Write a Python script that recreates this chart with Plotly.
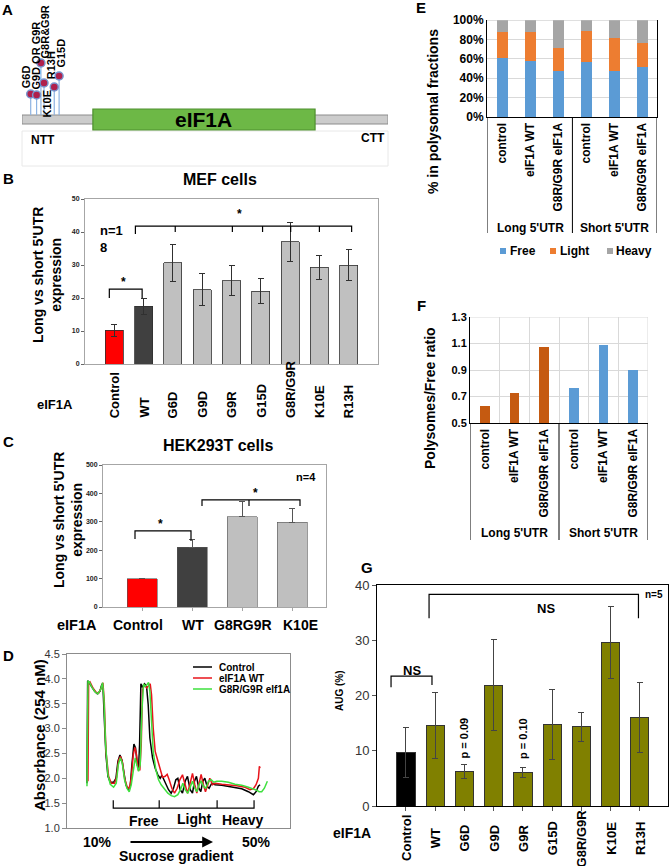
import plotly.graph_objects as go

W, H = 670, 866
def px(x): return x / W
def py(y): return 1 - y / H
FONT = "Arial, Liberation Sans, sans-serif"

# ---------------- DATA ----------------
# A: eIF1A schematic (schematic positions along protein, lollipop heights)
mut_labels = ["G6D", "G9D OR G9R", "G8R&G9R", "K10E", "R13H", "G15D"]
mut_pos = [3.4, 5.7, 7.4, 8.6, 12.6, 14.5]
mut_height = [4.1, 4.0, 7.2, 5.2, 4.8, 5.9]
protein_range = [0, 143]
domain_range = [27.7, 114.5]

# B: MEF cells
mef_cats = ["Control", "WT", "G6D", "G9D", "G9R", "G15D", "G8R/G9R", "K10E", "R13H"]
mef_vals = [10.2, 17.5, 30.7, 22.5, 25.3, 22.1, 37.0, 29.3, 30.0]
mef_err = [1.8, 2.4, 5.6, 4.8, 4.4, 3.7, 6.0, 3.7, 4.7]

# C: HEK293T cells
hek_cats = ["Control", "WT", "G8RG9R", "K10E"]
hek_vals = [100, 211, 317, 299]
hek_err = [None, 26, 53, 49]

# D: polysome profiles (gradient position a.u., absorbance)
ctrl_x = [9.5, 9.7, 10.0, 10.8, 11.8, 12.6, 13.4, 14.0, 14.3, 14.7, 15.2, 15.8, 16.5, 17.5, 18.2, 18.8, 19.4, 20.0, 20.6, 21.2,
          21.9, 22.5, 23.0, 23.6, 24.1, 24.6, 25.0, 25.3, 25.7, 26.2, 26.8, 27.4, 27.9, 28.4, 29.2, 30.0, 30.8, 31.5, 32.0, 32.6,
          33.3, 34.0, 34.8, 35.5, 36.2, 36.8, 37.5, 38.2, 39.0, 39.7, 40.5, 41.2, 41.8, 42.4, 43.1, 43.7, 44.3, 44.9, 45.6, 46.2,
          47.0, 48.0, 50.0, 52.0, 54.0, 56.0, 58.0, 59.5, 60.3, 61.0, 61.5]
ctrl_y = [1.90, 3.96, 3.94, 3.85, 3.75, 3.70, 3.75, 3.90, 3.85, 3.21, 2.47, 2.04, 1.92, 1.92, 2.00, 2.34, 2.47, 2.37, 2.07, 1.87,
          1.77, 1.84, 2.27, 2.69, 2.61, 2.27, 2.20, 2.67, 3.90, 3.83, 3.90, 3.85, 3.48, 2.81, 2.41, 2.20, 2.07, 2.00, 2.06, 1.97,
          1.87, 1.77, 1.70, 1.80, 1.97, 2.00, 1.77, 1.70, 1.94, 2.04, 1.77, 1.70, 1.94, 2.04, 1.80, 1.73, 1.94, 2.00, 1.84, 1.80,
          1.90, 1.87, 1.86, 1.84, 1.82, 1.79, 1.73, 1.67, 1.73, 1.84, 1.87]
wt_x = [9.8, 10.0, 10.4, 11.2, 12.2, 13.0, 13.8, 14.3, 14.7, 15.2, 16.0, 16.8, 17.8, 18.4, 19.0, 19.6, 20.2, 20.8, 21.5, 22.2,
        22.8, 23.4, 23.9, 24.4, 24.9, 25.4, 25.8, 26.2, 26.8, 27.4, 27.9, 28.5, 28.9, 29.4, 30.0, 30.8, 31.6, 32.2, 33.0, 33.6,
        34.2, 35.0, 35.8, 36.6, 37.4, 38.2, 39.0, 39.7, 40.4, 41.2, 41.9, 42.5, 43.2, 43.8, 44.5, 45.1, 45.8, 46.4, 47.2, 48.0,
        50.0, 52.0, 54.5, 57.0, 58.5, 59.5, 60.3, 61.0, 61.3, 61.5]
wt_y = [1.94, 3.92, 3.94, 3.83, 3.73, 3.71, 3.82, 3.92, 3.55, 2.54, 2.04, 1.90, 1.90, 2.02, 2.37, 2.44, 2.31, 2.00, 1.84, 1.79,
        2.00, 2.47, 2.62, 2.47, 2.17, 2.17, 2.67, 3.78, 3.88, 3.82, 3.85, 3.90, 3.68, 3.01, 2.54, 2.34, 2.14, 2.02, 2.04, 2.08,
        1.97, 1.80, 1.70, 1.80, 1.97, 2.07, 1.87, 1.70, 1.87, 2.10, 1.87, 1.70, 1.90, 2.08, 1.87, 1.73, 1.87, 2.00, 1.87, 1.90,
        1.88, 1.87, 1.85, 1.82, 1.77, 1.79, 1.87, 2.00, 2.24, 2.20]
mut_x = [9.5, 9.8, 10.2, 11.0, 12.0, 12.8, 13.6, 14.2, 14.6, 15.1, 15.8, 16.5, 17.5, 18.3, 18.9, 19.5, 20.1, 20.8, 21.5, 22.2,
         22.8, 23.4, 24.0, 24.5, 25.0, 25.5, 26.0, 26.5, 27.0, 27.5, 28.0, 28.4, 28.8, 29.4, 30.2, 31.0, 31.8, 32.8, 33.8, 34.8,
         35.8, 36.8, 37.6, 38.3, 39.0, 39.8, 40.5, 41.2, 41.9, 42.5, 43.2, 43.8, 44.5, 45.2, 46.0, 46.8, 47.6, 48.5, 50.0, 52.0,
         54.0, 56.0, 58.0, 59.5, 60.5, 61.2, 62.0, 62.8, 63.7]
mut_y = [1.84, 3.95, 3.94, 3.83, 3.73, 3.70, 3.78, 3.92, 3.61, 2.67, 2.07, 1.88, 1.82, 1.90, 2.27, 2.41, 2.31, 1.97, 1.80, 1.73,
         1.87, 2.20, 2.41, 2.27, 2.14, 2.27, 3.35, 3.90, 3.85, 3.88, 3.93, 3.75, 3.21, 2.54, 2.17, 1.97, 1.87, 1.79, 1.70, 1.65,
         1.63, 1.67, 1.77, 1.90, 1.77, 1.70, 1.84, 1.94, 1.80, 1.73, 1.87, 1.95, 1.84, 1.80, 1.94, 1.97, 1.92, 1.94, 1.94, 1.92,
         1.88, 1.86, 1.82, 1.79, 1.76, 1.73, 1.73, 1.80, 1.94]
profile_names = ["Control", "eIF1A WT", "G8R/G9R elf1A"]
fraction_bounds = [17.4, 31.2, 48.6, 59.7]
fraction_names = ["Free", "Light", "Heavy"]

# E: % in polysomal fractions
frac_cats = ["control", "eIF1A WT", "G8R/G9R eIF1A", "control", "eIF1A WT", "G8R/G9R eIF1A"]
utr_groups = ["Long 5'UTR", "Short 5'UTR"]
free_pct = [60.5, 57.7, 47.7, 56.4, 47.7, 51.9]
light_pct = [27.5, 29.6, 23.1, 32.3, 34.1, 24.1]
heavy_pct = [12.0, 12.7, 29.2, 11.3, 18.2, 24.0]

# F: Polysomes/Free ratio
ratio_vals = [0.628, 0.724, 1.071, 0.766, 1.089, 0.900]

# G: AUG (%)
aug_cats = ["Control", "WT", "G6D", "G9D", "G9R", "G15D", "G8R/G9R", "K10E", "R13H"]
aug_vals = [9.7, 14.6, 6.2, 21.9, 6.1, 14.8, 14.3, 29.6, 16.0]
aug_err = [4.5, 6.0, 1.3, 8.3, 0.9, 6.3, 2.7, 6.5, 6.3]

# ---------------- FIGURE ----------------
fig = go.Figure()
ann = []
shapes = []

def T(x, y, text, size, bold=True, **kw):
    d = dict(xref='paper', yref='paper', x=px(x), y=py(y), xanchor='center', yanchor='middle',
             text=('<b>%s</b>' % text) if bold else text, showarrow=False,
             font=dict(size=size, family=FONT, color='black'))
    d.update(kw)
    return d

def path(points, xr, yr, width=1.2, color='black'):
    p = 'M ' + ' L '.join('%s,%s' % (a, b) for a, b in points)
    return dict(type='path', path=p, xref=xr, yref=yr, line=dict(color=color, width=width))

# ---- A ----
sx, sy = [], []
for p, h in zip(mut_pos, mut_height):
    sx += [p, p, None]; sy += [2.0, h, None]
fig.add_trace(go.Scatter(x=sx, y=sy, mode='lines', line=dict(color='#8db3e2', width=1.2),
                         xaxis='x', yaxis='y', hoverinfo='skip', showlegend=False))
fig.add_trace(go.Scatter(x=mut_pos, y=mut_height, mode='markers',
                         marker=dict(size=8, color='#b0204c', line=dict(color='#7896cf', width=1.5)),
                         xaxis='x', yaxis='y', showlegend=False))
shapes.append(dict(type='rect', xref='x', yref='y', x0=protein_range[0], x1=protein_range[1], y0=1.1, y1=2.0,
                   fillcolor='#cccccc', line=dict(color='#8c8c8c', width=1), layer='below'))
shapes.append(dict(type='rect', xref='x', yref='y', x0=domain_range[0], x1=domain_range[1], y0=0.5, y1=2.6,
                   fillcolor='#6db846', line=dict(color='#4f8f2f', width=1.2), layer='below'))
shapes.append(dict(type='rect', xref='paper', yref='paper', x0=px(22), x1=px(388), y0=py(166), y1=py(131),
                   line=dict(color='#e8e8e8', width=1), layer='below'))
ann.append(dict(xref='x', yref='y', x=sum(domain_range) / 2, y=1.55, text='<b>eIF1A</b>', showarrow=False,
                font=dict(size=21, family=FONT, color='black')))
shifts = [(-4, 4, 'bottom'), (-1, 3, 'bottom'), (5, 3, 'bottom'), (2.5, -5, 'top'), (-2.5, 5.5, 'bottom'), (2, 6, 'bottom')]
for lab, p, h, (dx, dy, va) in zip(mut_labels, mut_pos, mut_height, shifts):
    ann.append(dict(xref='x', yref='y', x=p, y=h, xshift=dx, yshift=dy, text='<b>%s</b>' % lab, showarrow=False,
                    textangle=-90, yanchor=va, xanchor='center', font=dict(size=11, family=FONT, color='black')))
ann.append(T(29, 140, 'NTT', 12, xanchor='left'))
ann.append(T(387, 138, 'CTT', 12, xanchor='right'))
ann.append(T(7, 9, 'A', 15))

# ---- B ----
fig.add_trace(go.Bar(x=list(range(len(mef_cats))), y=mef_vals, width=0.62,
                     marker=dict(color=['#ff0000', '#404040'] + ['#c0c0c0'] * 7, line=dict(color='#303030', width=0.8)),
                     error_y=dict(type='data', array=mef_err, color='#303030', thickness=1, width=3),
                     xaxis='x2', yaxis='y2', showlegend=False))
for i, c in enumerate(mef_cats):
    ann.append(dict(xref='x2', yref='paper', x=i, y=py(420), text='<b>%s</b>' % c, showarrow=False, textangle=-90,
                    yanchor='bottom', xanchor='center', font=dict(size=13, family=FONT, color='black')))
ann.append(T(55, 404, 'eIF1A', 13))
ann.append(T(220, 180, 'MEF cells', 16))
ann.append(T(8, 178, 'B', 15))
ann.append(T(47, 275, "Long vs short 5'UTR<br>expression", 14, textangle=-90))
ann.append(T(98, 221, 'n=1<br>8', 13, xanchor='left', yanchor='top', align='left'))
shapes.append(path([(-0.17, 20), (-0.17, 22.7), (0.95, 22.7), (0.95, 20)], 'x2', 'y2'))
ann.append(dict(xref='x2', yref='y2', x=0.31, y=24.8, text='<b>*</b>', showarrow=False, font=dict(size=12, family=FONT)))
shapes.append(path([(0.72, 39.4), (0.72, 41.8), (8.1, 41.8), (8.1, 40)], 'x2', 'y2'))
for tx in [2.08, 4.03, 5.06, 6.02, 7.0]:
    shapes.append(path([(tx, 41.8), (tx, 40)], 'x2', 'y2'))
ann.append(dict(xref='x2', yref='y2', x=4.27, y=45.5, text='<b>*</b>', showarrow=False, font=dict(size=12, family=FONT)))

# ---- C ----
fig.add_trace(go.Bar(x=list(range(len(hek_cats))), y=hek_vals, width=0.6,
                     marker=dict(color=['#ff0000', '#404040', '#bfbfbf', '#bfbfbf'], line=dict(color='#555555', width=0.6)),
                     error_y=dict(type='data', symmetric=False, array=hek_err, arrayminus=[None, 0, 0, 0],
                                  color='#555555', thickness=1, width=3),
                     xaxis='x3', yaxis='y3', showlegend=False))
for c, xx in zip(hek_cats, [138, 193, 243, 300]):
    ann.append(T(xx, 625, c, 14))
ann.append(T(77, 625, 'eIF1A', 14.5))
ann.append(T(218, 445, 'HEK293T cells', 16))
ann.append(T(8, 441, 'C', 15))
ann.append(T(68, 520, "Long vs short 5'UTR<br>expression", 14, textangle=-90))
ann.append(T(306, 477, 'n=4', 11))
shapes.append(path([(-0.14, 239), (-0.14, 268), (0.98, 268), (0.98, 232)], 'x3', 'y3'))
shapes.append(path([(1.2, 356), (1.2, 377), (3.16, 377), (3.16, 356)], 'x3', 'y3'))
shapes.append(path([(2.14, 377), (2.14, 356)], 'x3', 'y3'))
ann.append(dict(xref='x3', yref='y3', x=0.36, y=292, text='<b>*</b>', showarrow=False, font=dict(size=12, family=FONT)))
ann.append(dict(xref='x3', yref='y3', x=2.26, y=401, text='<b>*</b>', showarrow=False, font=dict(size=12, family=FONT)))

# ---- D ----
for xs, ys, col in [(ctrl_x, ctrl_y, '#000000'), (wt_x, wt_y, '#e8141b'), (mut_x, mut_y, '#3ee03e')]:
    fig.add_trace(go.Scatter(x=xs, y=ys, mode='lines', line=dict(color=col, width=1.5),
                             xaxis='x4', yaxis='y4', showlegend=False))
for (yy, col), name in zip([(667, '#000000'), (678, '#e8141b'), (689, '#3ee03e')], profile_names):
    shapes.append(dict(type='line', xref='paper', yref='paper', x0=px(193), x1=px(212), y0=py(yy), y1=py(yy),
                       line=dict(color=col, width=1.5)))
    ann.append(T(217, yy, name, 10, xanchor='left'))
shapes.append(path([(fraction_bounds[0], 1.56), (fraction_bounds[0], 1.40), (fraction_bounds[-1], 1.40),
                    (fraction_bounds[-1], 1.56)], 'x4', 'y4'))
for b in fraction_bounds[1:-1]:
    shapes.append(path([(b, 1.40), (b, 1.56)], 'x4', 'y4'))
for name, (xx, yy) in zip(fraction_names, [(144, 821), (194, 819), (242, 820)]):
    ann.append(T(xx, yy, name, 14))
ann.append(T(97, 842, '10%', 14))
ann.append(T(256, 842, '50%', 14))
ann.append(dict(xref='paper', yref='paper', x=px(213), y=py(842), ax=-84, ay=0, axref='pixel', ayref='pixel',
                text='', showarrow=True, arrowhead=2, arrowsize=1.2, arrowwidth=1.8, arrowcolor='black', standoff=0))
ann.append(T(176, 856, 'Sucrose gradient', 14))
ann.append(T(39, 735, 'Absorbance (254 nM)', 15, textangle=-90))
ann.append(T(8, 655, 'D', 15))

# ---- E ----
for vals, col in [(free_pct, '#5b9bd5'), (light_pct, '#ed7d31'), (heavy_pct, '#a5a5a5')]:
    fig.add_trace(go.Bar(x=list(range(6)), y=vals, width=0.42, marker=dict(color=col, line=dict(width=0)),
                         xaxis='x5', yaxis='y5', showlegend=False))
for xv in [-0.55, 2.5, 5.52]:
    shapes.append(dict(type='line', xref='x5', yref='paper', x0=xv, x1=xv, y0=py(117), y1=py(233),
                       line=dict(color='black', width=1)))
shapes.append(dict(type='line', xref='x5', yref='y5', x0=-0.55, x1=5.52, y0=100, y1=100,
                   line=dict(color='#bfbfbf', width=1)))
for gi, g in enumerate(utr_groups):
    ann.append(dict(xref='x5', yref='paper', x=1 + 3 * gi, y=py(228), text='<b>%s</b>' % g, showarrow=False,
                    xanchor='center', yanchor='middle', font=dict(size=12, family=FONT, color='black')))
for (sq, tx), name, col in zip([(500, 508), (550, 558), (607, 614)], ['Free', 'Light', 'Heavy'],
                                ['#5b9bd5', '#ed7d31', '#a5a5a5']):
    shapes.append(dict(type='rect', xref='paper', yref='paper', x0=px(sq), x1=px(sq + 6), y0=py(254), y1=py(248),
                       fillcolor=col, line=dict(width=0)))
    ann.append(T(tx, 251, name, 12, xanchor='left'))
ann.append(T(433, 111, '% in polysomal fractions', 14, textangle=-90))
ann.append(T(421, 8, 'E', 15))

# ---- F ----
fig.add_trace(go.Bar(x=list(range(6)), y=ratio_vals, width=0.32,
                     marker=dict(color=['#c55a11'] * 3 + ['#5b9bd5'] * 3, line=dict(width=0)),
                     xaxis='x6', yaxis='y6', showlegend=False))
for xv in [-0.5, 2.5, 5.5]:
    shapes.append(dict(type='line', xref='x6', yref='paper', x0=xv, x1=xv, y0=py(423), y1=py(540),
                       line=dict(color='black', width=1)))
shapes.append(dict(type='line', xref='x6', yref='y6', x0=5.5, x1=5.5, y0=0.5, y1=1.3, line=dict(color='#d9d9d9', width=1)))
shapes.append(dict(type='line', xref='x6', yref='y6', x0=-0.5, x1=5.5, y0=1.3, y1=1.3, line=dict(color='#d9d9d9', width=1)))
for gi, g in enumerate(utr_groups):
    ann.append(dict(xref='x6', yref='paper', x=1 + 3 * gi, y=py(533), text='<b>%s</b>' % g, showarrow=False,
                    xanchor='center', yanchor='middle', font=dict(size=12, family=FONT, color='black')))
ann.append(T(430, 398, 'Polysomes/Free ratio', 14, textangle=-90))
ann.append(T(422, 305, 'F', 15))

# ---- G ----
fig.add_trace(go.Bar(x=list(range(len(aug_cats))), y=aug_vals, width=0.62,
                     marker=dict(color=['#000000'] + ['#808000'] * 8, line=dict(color='#333333', width=1)),
                     error_y=dict(type='data', array=aug_err, color='#444444', thickness=1, width=3),
                     xaxis='x7', yaxis='y7', showlegend=False))
for i, c in enumerate(aug_cats):
    ann.append(dict(xref='x7', yref='paper', x=i, y=py(838), text='<b>%s</b>' % c, showarrow=False, textangle=-90,
                    yanchor='middle', xanchor='center', font=dict(size=13, family=FONT, color='black')))
ann.append(T(352, 833, 'eIF1A', 14))
ann.append(T(367, 567, 'G', 15))
ann.append(T(339, 690, 'AUG (%)', 10, textangle=-90))
shapes.append(path([(-0.51, 21.5), (-0.51, 23.5), (0.89, 23.5), (0.89, 21.9)], 'x7', 'y7'))
shapes.append(path([(0.79, 34.0), (0.79, 38.3), (7.95, 38.3), (7.95, 34.0)], 'x7', 'y7'))
ann.append(T(412, 670, 'NS', 13))
ann.append(T(546, 608, 'NS', 13))
ann.append(T(654, 594, 'n=5', 10))
for i, lab in [(2, 'p = 0.09'), (4, 'p = 0.10')]:
    ann.append(dict(xref='x7', yref='paper', x=i, y=py(738), text='<b>%s</b>' % lab, showarrow=False, textangle=-90,
                    xanchor='center', yanchor='middle', font=dict(size=11, family=FONT, color='black')))

# ---------------- LAYOUT ----------------
def ax(**kw):
    d = dict(showgrid=False, zeroline=False, fixedrange=True, automargin=False)
    d.update(kw)
    return d

tf = lambda s, b=True, c='#222222': dict(size=s, family=FONT, color=c, weight='bold' if b else 'normal')

fig.update_layout(
    width=W, height=866, margin=dict(l=0, r=0, t=0, b=0, pad=0, autoexpand=False),
    paper_bgcolor='white', plot_bgcolor='white', barmode='stack',
    font=dict(family=FONT, color='black'),
    xaxis=ax(domain=[px(22), px(388)], range=protein_range, visible=False, anchor='y'),
    yaxis=ax(domain=[py(135), py(5)], range=[0, 13], visible=False, anchor='x'),
    xaxis2=ax(domain=[px(85), px(378)], range=[-1, 9], anchor='y2', showticklabels=False, showline=True,
              linecolor='#a6a6a6', mirror=True, ticks=''),
    yaxis2=ax(domain=[py(364), py(199)], range=[0, 50], anchor='x2', dtick=10, showline=True, linecolor='#a6a6a6',
              mirror=True, ticks='outside', ticklen=3, tickcolor='#666666', tickfont=tf(7)),
    xaxis3=ax(domain=[px(103), px(326)], range=[-0.78, 3.68], anchor='y3', showticklabels=False, showline=True,
              linecolor='#a6a6a6', mirror=True, ticks='outside', ticklen=3, tickcolor='#a6a6a6',
              tickvals=list(range(4))),
    yaxis3=ax(domain=[py(607), py(465)], range=[0, 500], anchor='x3', dtick=100, showline=True, linecolor='#a6a6a6',
              mirror=True, ticks='outside', ticklen=3, tickcolor='#666666', tickfont=tf(7)),
    xaxis4=ax(domain=[px(67), px(290)], range=[3.5, 70.5], anchor='y4', showticklabels=False, showline=True,
              linecolor='#8c8c8c', mirror=True, ticks=''),
    yaxis4=ax(domain=[py(828), py(654)], range=[1.0, 4.5], anchor='x4', dtick=0.5, tickformat='.1f', showline=True,
              linecolor='#8c8c8c', mirror=True, ticks='outside', ticklen=4, tickcolor='#8c8c8c',
              tickfont=tf(11, False, '#333333')),
    xaxis5=ax(domain=[px(487), px(657)], range=[-0.55, 5.52], anchor='y5', tickvals=list(range(6)), ticktext=frac_cats,
              tickangle=-90, showline=True, linecolor='black', ticks='', tickfont=tf(12, True, 'black')),
    yaxis5=ax(domain=[py(117), py(20)], range=[0, 100], anchor='x5', dtick=20, ticksuffix='%', showgrid=True,
              gridcolor='#d9d9d9', showline=True, linecolor='black', mirror=True, ticks='',
              tickfont=tf(12, True, 'black')),
    xaxis6=ax(domain=[px(470), px(648)], range=[-0.5, 5.5], anchor='y6', tickvals=list(range(6)), ticktext=frac_cats,
              tickangle=-90, showline=True, linecolor='black', ticks='', tickfont=tf(12, True, 'black'),
              minor=dict(tickvals=[0.5, 1.5, 2.5, 3.5, 4.5], showgrid=True, gridcolor='#d9d9d9', ticks='')),
    yaxis6=ax(domain=[py(423), py(317)], range=[0.5, 1.3], anchor='x6', tickvals=[0.5, 0.7, 0.9, 1.1, 1.3],
              tickformat='.1f', showgrid=True, gridcolor='#d9d9d9', showline=True, linecolor='black', ticks='',
              tickfont=tf(11, True, 'black')),
    xaxis7=ax(domain=[px(377), px(668)], range=[-0.99, 8.96], anchor='y7', tickvals=list(range(9)),
              showticklabels=False, showline=True, linecolor='black', mirror=True, ticks='outside', ticklen=4,
              tickcolor='#555555'),
    yaxis7=ax(domain=[py(806), py(585)], range=[0, 40], anchor='x7', dtick=10, showline=True, linecolor='black',
              mirror=True, ticks='outside', ticklen=4, tickcolor='#555555', tickfont=tf(13, False, '#333333')),
    annotations=ann, shapes=shapes,
)

fig.write_html("out.html", config={'displayModeBar': False},
               post_script="document.body.style.margin='0px';document.body.style.overflow='hidden';")
